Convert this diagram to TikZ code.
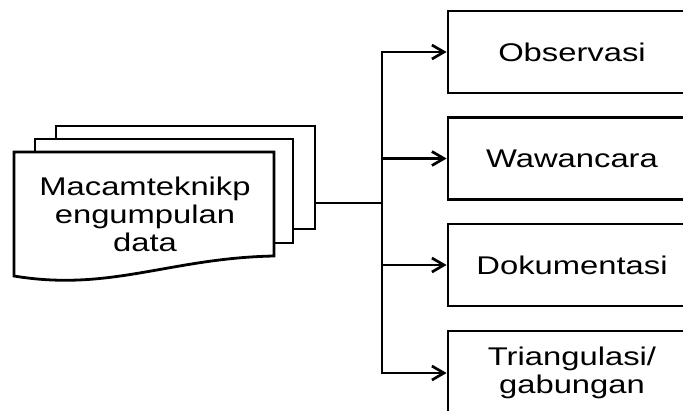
\documentclass[tikz,border=0pt]{standalone}
\usepackage{fontspec}
\setmainfont{Liberation Sans}[FakeStretch=1.28]
\usetikzlibrary{arrows.meta}
\begin{document}
\begin{tikzpicture}[x=1pt,y=-1pt, line width=2.8pt, line join=miter,
  docpage/.style={draw=black, fill=white},
  lbl/.style={font=\fontsize{25.6}{28}\selectfont, inner sep=0pt, align=center},
  box/.style={draw=black, fill=white, minimum width=248pt, minimum height=82pt, inner sep=0pt, align=center, font=\fontsize{25.6}{28}\selectfont},
  arr/.style={line width=2.7pt, -{Straight Barb[length=12pt,width=14pt]}}]
\useasboundingbox (0,0) rectangle (683,410);
\begin{scope}
\clip (0,0) rectangle (683,410);
% stacked documents
\draw[docpage] (56,126) rectangle (315,229);
\draw[docpage] (35,139) rectangle (293,243);
\draw[docpage] (14,152) -- (274,152) -- (274,256)
   .. controls (170,258) and (110,292) .. (14,276) -- cycle;
\node[lbl] (src) at (145,214) {Macamteknikp\\engumpulan\\data};
% target boxes
\node[box] (b1) at (572,52) {Observasi};
\node[box] (b2) at (572,158.5) {Wawancara};
\node[box] (b3) at (572,265) {Dokumentasi};
\node[box, minimum height=84pt] (b4) at (572,373) {Triangulasi/\\gabungan};
% connectors
\coordinate (out) at (315,203);
\coordinate (j) at (382,203);
\draw (out) -- (j);
\draw[arr] (j) |- (b1.west);
\draw[arr] (j) |- (b2.west);
\draw[arr] (j) |- (b3.west);
\draw[arr] (j) |- (b4.west);
\end{scope}
\end{tikzpicture}
\end{document}
